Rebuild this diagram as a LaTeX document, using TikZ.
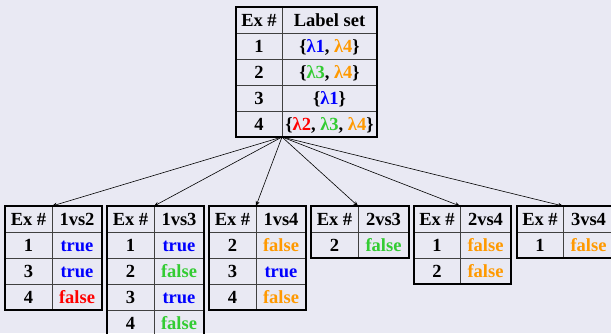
\documentclass[tikz,border=0pt]{standalone}
\usepackage{fontspec}
\setmainfont{Liberation Serif}
\usetikzlibrary{arrows.meta}
\definecolor{bg}{HTML}{E9E9F3}
\definecolor{lblue}{HTML}{0000FF}
\definecolor{lgreen}{HTML}{33CC33}
\definecolor{lorange}{HTML}{FF9900}
\definecolor{lred}{HTML}{FF0000}
\newcommand\tcell[6]{\node[cell] (#1) at ({(#2+#3)/2},{#4+26*#5+13}) {#6};}
\newcommand\tgrid[6]{%
  \pgfmathtruncatemacro\lastk{#6-1}%
  \foreach \k in {1,...,\lastk}{\draw[gridline] (#2,{#5+26*\k}) -- (#4,{#5+26*\k});}
  \draw[gridline] (#3,#5) -- (#3,{#5+26*#6});
  \draw[frameline] (#2,#5) rectangle (#4,{#5+26*#6});
  \coordinate (#1top) at (#3,#5);
  \coordinate (#1bot) at (#3,{#5+26*#6});
}
\newcommand\B[1]{\textcolor{lblue}{#1}}
\newcommand\G[1]{\textcolor{lgreen}{#1}}
\newcommand\Or[1]{\textcolor{lorange}{#1}}
\newcommand\R[1]{\textcolor{lred}{#1}}
\begin{document}
\begin{tikzpicture}[x=1pt,y=-1pt,
  cell/.style={font=\fontsize{18.5}{18.5}\selectfont\bfseries, inner sep=0pt, text height=12.2pt, text depth=0pt, anchor=center},
  gridline/.style={draw=black!75, line width=1pt},
  frameline/.style={draw=black, line width=2.2pt},
  arr/.style={draw=black, line width=0.6pt, -{Stealth[length=5pt,width=4pt]}}]
\fill[bg] (0,0) rectangle (611,333);
\useasboundingbox (0,0) rectangle (611,333);
\begin{scope}
\clip (0,0) rectangle (611,333);
% top table
\tgrid{M}{236}{282}{377}{7}{5}
\tcell{m0a}{236}{282}{7}{0}{Ex \#}
\tcell{m0b}{282}{377}{7}{0}{Label set}
\tcell{m1a}{236}{282}{7}{1}{1}
\tcell{m1b}{282}{377}{7}{1}{\{\B{λ1}, \Or{λ4}\}}
\tcell{m2a}{236}{282}{7}{2}{2}
\tcell{m2b}{282}{377}{7}{2}{\{\G{λ3}, \Or{λ4}\}}
\tcell{m3a}{236}{282}{7}{3}{3}
\tcell{m3b}{282}{377}{7}{3}{\{\B{λ1}\}}
\tcell{m4a}{236}{282}{7}{4}{4}
\tcell{m4b}{282}{377}{7}{4}{\{\R{λ2}, \G{λ3}, \Or{λ4}\}}
% table 1
\tgrid{A}{5}{52}{102}{206}{4}
\tcell{a0a}{5}{52}{206}{0}{Ex \#}
\tcell{a0b}{52}{102}{206}{0}{1vs2}
\tcell{a1a}{5}{52}{206}{1}{1}
\tcell{a1b}{52}{102}{206}{1}{\B{true}}
\tcell{a2a}{5}{52}{206}{2}{3}
\tcell{a2b}{52}{102}{206}{2}{\B{true}}
\tcell{a3a}{5}{52}{206}{3}{4}
\tcell{a3b}{52}{102}{206}{3}{\R{false}}
% table 2
\tgrid{Bt}{107}{154}{204}{206}{5}
\tcell{b0a}{107}{154}{206}{0}{Ex \#}
\tcell{b0b}{154}{204}{206}{0}{1vs3}
\tcell{b1a}{107}{154}{206}{1}{1}
\tcell{b1b}{154}{204}{206}{1}{\B{true}}
\tcell{b2a}{107}{154}{206}{2}{2}
\tcell{b2b}{154}{204}{206}{2}{\G{false}}
\tcell{b3a}{107}{154}{206}{3}{3}
\tcell{b3b}{154}{204}{206}{3}{\B{true}}
\tcell{b4a}{107}{154}{206}{4}{4}
\tcell{b4b}{154}{204}{206}{4}{\G{false}}
% table 3
\tgrid{C}{209}{256}{306}{206}{4}
\tcell{c0a}{209}{256}{206}{0}{Ex \#}
\tcell{c0b}{256}{306}{206}{0}{1vs4}
\tcell{c1a}{209}{256}{206}{1}{2}
\tcell{c1b}{256}{306}{206}{1}{\Or{false}}
\tcell{c2a}{209}{256}{206}{2}{3}
\tcell{c2b}{256}{306}{206}{2}{\B{true}}
\tcell{c3a}{209}{256}{206}{3}{4}
\tcell{c3b}{256}{306}{206}{3}{\Or{false}}
% table 4
\tgrid{D}{311}{358}{409}{206}{2}
\tcell{d0a}{311}{358}{206}{0}{Ex \#}
\tcell{d0b}{358}{409}{206}{0}{2vs3}
\tcell{d1a}{311}{358}{206}{1}{2}
\tcell{d1b}{358}{409}{206}{1}{\G{false}}
% table 5
\tgrid{E}{414}{460}{511}{206}{3}
\tcell{e0a}{414}{460}{206}{0}{Ex \#}
\tcell{e0b}{460}{511}{206}{0}{2vs4}
\tcell{e1a}{414}{460}{206}{1}{1}
\tcell{e1b}{460}{511}{206}{1}{\Or{false}}
\tcell{e2a}{414}{460}{206}{2}{2}
\tcell{e2b}{460}{511}{206}{2}{\Or{false}}
% table 6
\tgrid{F}{517}{563}{614}{206}{2}
\tcell{f0a}{517}{563}{206}{0}{Ex \#}
\tcell{f0b}{563}{614}{206}{0}{3vs4}
\tcell{f1a}{517}{563}{206}{1}{1}
\tcell{f1b}{563}{614}{206}{1}{\Or{false}}
% arrows
\foreach \t in {A,Bt,C,D,E,F}{\draw[arr] (Mbot) -- (\t top);}
\end{scope}
\end{tikzpicture}
\end{document}
